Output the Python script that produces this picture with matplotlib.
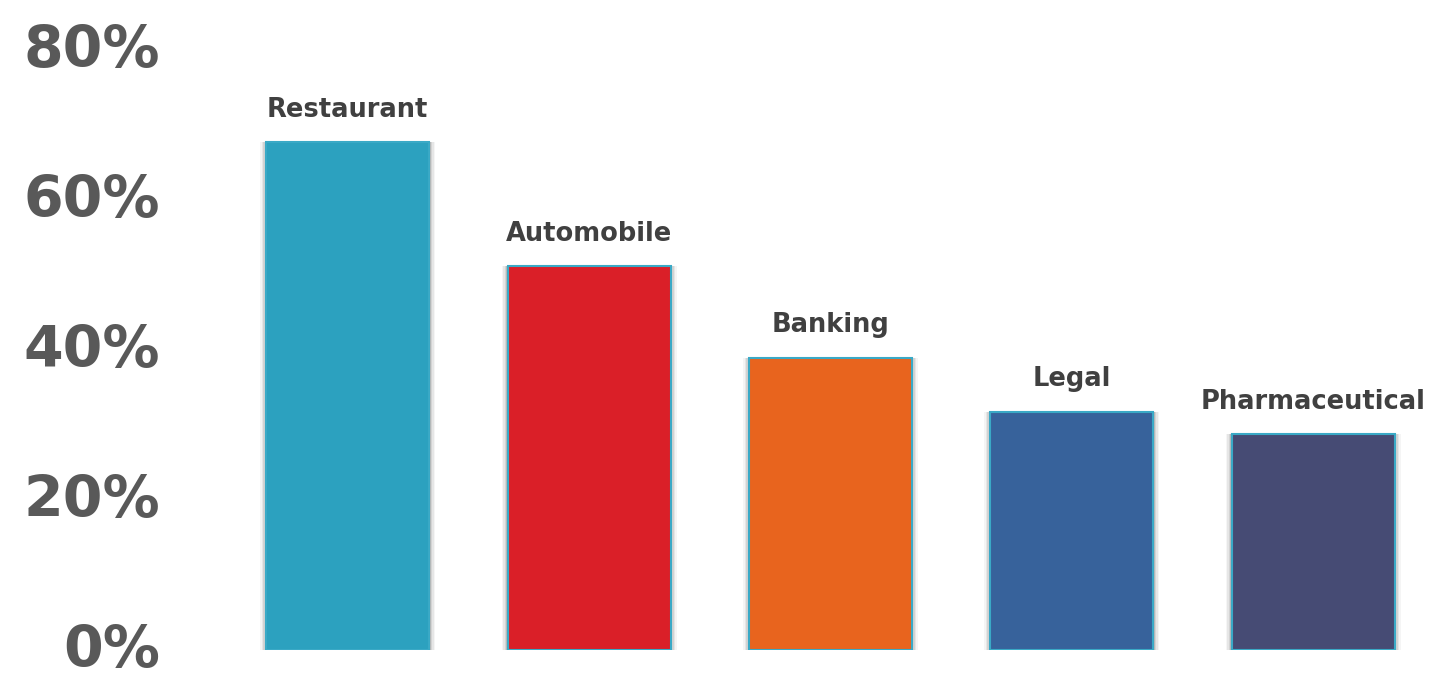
import matplotlib
matplotlib.use('Agg')
import matplotlib.pyplot as plt
import matplotlib.transforms as mtransforms
from matplotlib.ticker import FuncFormatter

# Data
categories = ['Restaurant', 'Automobile', 'Banking', 'Legal', 'Pharmaceutical']
values = [67.7, 51.2, 39.0, 31.8, 28.8]
colors = ['#2CA1BF', '#DA1F28', '#E8641E', '#37629B', '#464B74']
y_ticks = [0, 20, 40, 60, 80]

plt.rcParams['font.family'] = ['DejaVu Sans']

fig = plt.figure(figsize=(14.33, 6.77), dpi=100)
ax = fig.add_axes([227 / 1433, 27 / 677, 1207 / 1433, 600 / 677])

x = range(len(categories))
width = 0.675
px = 1 / 241.5  # one pixel in data units along x

# Soft shadow behind bars
for grow, alpha in [(12, 0.06), (9, 0.09), (6, 0.13), (3, 0.2)]:
    ax.bar(x, values, width=width + grow * px, color='#555555', alpha=alpha,
           linewidth=0, zorder=1)

bars = ax.bar(x, values, width=width, color=colors, edgecolor='#3AA9C6',
              linewidth=1.5, zorder=2)

# Category labels above each bar
for xi, v, name in zip(x, values, categories):
    ax.annotate(name, (xi, v), xytext=(0, 14), textcoords='offset points',
                ha='center', va='bottom', fontsize=18.5, fontweight='bold',
                color='#404040')

ax.set_xlim(-0.5, 4.5)
ax.set_ylim(0, 80)
ax.set_yticks(y_ticks)
ax.yaxis.set_major_formatter(FuncFormatter(lambda v, p: f'{v:.0f}%'))
ax.tick_params(axis='y', length=0, pad=48, labelsize=41, labelcolor='#595959')
shift = mtransforms.ScaledTranslation(0, 3 / 72, fig.dpi_scale_trans)
for lbl in ax.get_yticklabels():
    lbl.set_fontweight('bold')
    lbl.set_transform(lbl.get_transform() + shift)
ax.set_xticks([])
for s in ax.spines.values():
    s.set_visible(False)

fig.savefig('out.png', dpi=100)
